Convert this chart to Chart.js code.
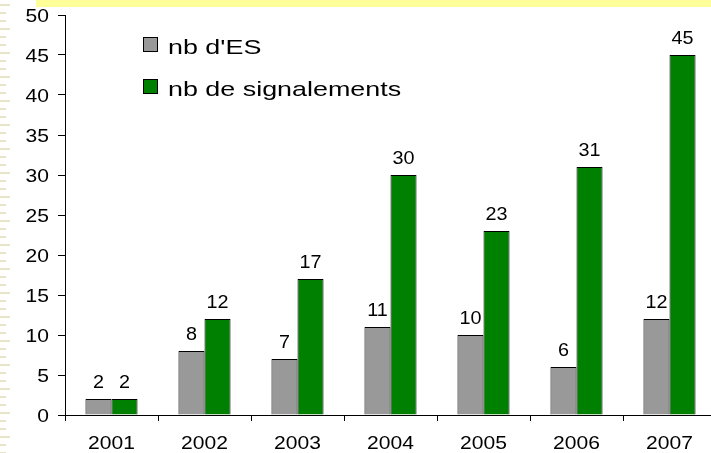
<!DOCTYPE html>
<html>
<head>
<meta charset="utf-8">
<script src="https://cdn.jsdelivr.net/npm/chart.js@4/dist/chart.umd.min.js"></script>
<style>
  html, body { margin: 0; padding: 0; background: #fff; overflow: hidden; }
  #wrap { width: 716px; height: 453px; }
</style>
</head>
<body>
<div id="wrap"><canvas id="chart"></canvas></div>
<script>
// données
var years = ["2001", "2002", "2003", "2004", "2005", "2006", "2007"];
var nbES = [2, 8, 7, 11, 10, 6, 12];
var nbSignalements = [2, 12, 17, 30, 23, 31, 45];
var yTicks = [0, 5, 10, 15, 20, 25, 30, 35, 40, 45, 50];

var FONT = "'Liberation Sans', Arial, sans-serif";

// texte un peu étiré horizontalement, comme dans l'original
function drawText(c, txt, x, y, align, size, sx) {
    c.save();
    c.font = size + "px " + FONT;
    c.textAlign = align;
    c.textBaseline = "alphabetic";
    c.translate(x, y);
    c.scale(sx, 1);
    c.fillText(txt, 0, 0);
    c.restore();
}

// fond : bande jaune en haut, pointillés à gauche
var backgroundPlugin = {
    id: "fond",
    beforeDraw: function (chart) {
        var c = chart.ctx;
        c.save();
        c.fillStyle = "#fff";
        c.fillRect(0, 0, chart.width, chart.height);
        c.fillStyle = "#ffff99";
        c.fillRect(36, 0, chart.width - 36, 7);
        c.fillStyle = "#e8e4c8";
        for (var y = 4; y < chart.height; y += 8) {
            var w = (y % 24 === 4) ? 10 : 6;
            c.fillRect(0, y, w, 2);
        }
        c.restore();
    }
};

// étiquettes des axes, valeurs au-dessus des barres, légende
var labelsPlugin = {
    id: "etiquettes",
    afterDraw: function (chart) {
        var c = chart.ctx;
        var xs = chart.scales.x, ys = chart.scales.y;
        c.save();
        c.fillStyle = "#000";
        yTicks.forEach(function (v) {
            drawText(c, String(v), 49, ys.getPixelForValue(v) + 6.5, "right", 18, 1.17);
        });
        years.forEach(function (lab, i) {
            drawText(c, lab, xs.getPixelForValue(i), 449, "center", 18, 1.17);
        });
        chart.data.datasets.forEach(function (ds, i) {
            chart.getDatasetMeta(i).data.forEach(function (bar, j) {
                drawText(c, String(ds.data[j]), bar.x, bar.y - 11, "center", 18, 1.1);
            });
        });
        chart.data.datasets.forEach(function (ds, i) {
            var y = 37 + i * 42;
            c.fillStyle = ds.backgroundColor;
            c.fillRect(143, y, 15, 15);
            c.strokeStyle = "#000";
            c.lineWidth = 1;
            c.strokeRect(143.5, y + 0.5, 14, 14);
            c.fillStyle = "#000";
            drawText(c, ds.label, 168, y + 16.5, "left", 21, 1.28);
        });
        c.restore();
    }
};

var ctx = document.getElementById("chart").getContext("2d");
var myChart = new Chart(ctx, {
    type: "bar",
    data: {
        labels: years,
        datasets: [{
            label: "nb d'ES",
            data: nbES,
            backgroundColor: "#999999",
            borderColor: "#000",
            borderWidth: 1,
            categoryPercentage: 0.56,
            barPercentage: 1
        }, {
            label: "nb de signalements",
            data: nbSignalements,
            backgroundColor: "#008000",
            borderColor: "#000",
            borderWidth: 1,
            categoryPercentage: 0.56,
            barPercentage: 1
        }]
    },
    options: {
        responsive: true,
        maintainAspectRatio: false,
        animation: false,
        layout: { padding: { top: 15, right: 0, left: 0, bottom: 0 } },
        plugins: {
            legend: { display: false },
            tooltip: { enabled: false }
        },
        scales: {
            x: {
                grid: { drawOnChartArea: false, drawTicks: true, tickLength: 6, color: "#000", offset: true },
                border: { color: "#000", width: 1 },
                ticks: { display: false },
                afterFit: function (s) { s.height = 38; }
            },
            y: {
                min: 0,
                max: 50,
                afterBuildTicks: function (s) {
                    s.ticks = yTicks.map(function (v) { return { value: v }; });
                },
                grid: { drawOnChartArea: false, drawTicks: true, tickLength: 7, color: "#000" },
                border: { color: "#000", width: 1 },
                ticks: { display: false },
                afterFit: function (s) { s.width = 65; }
            }
        }
    },
    plugins: [backgroundPlugin, labelsPlugin]
});
</script>
</body>
</html>
